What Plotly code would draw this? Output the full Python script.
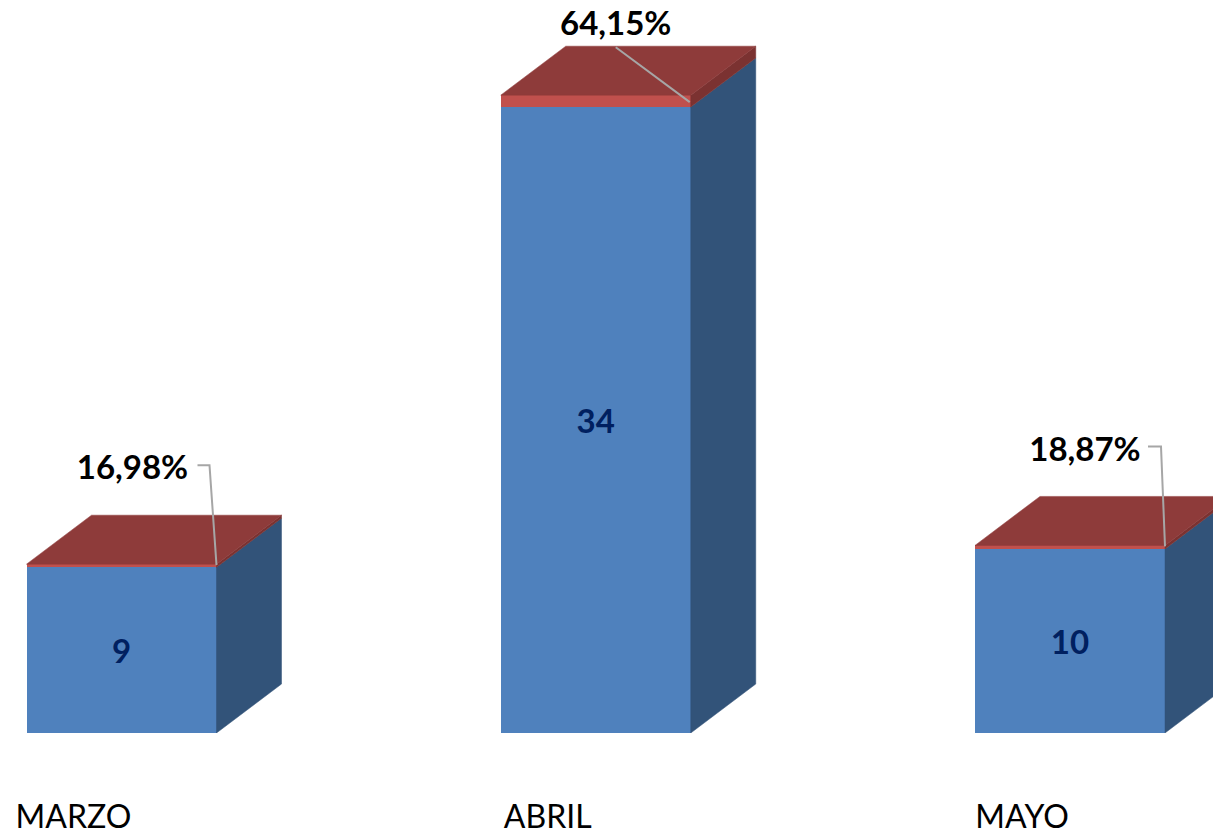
import plotly.graph_objects as go

meses = ["MARZO", "ABRIL", "MAYO"]
casos = [9, 34, 10]
porcentajes = [0.1698, 0.6415, 0.1887]

# escala en pixeles de la imagen
W, H = 1213, 831
BASE_Y = 733.3
X0 = 121.5
PX_X = 474.25
PX_Y = 18.42
ANCHO = 190 / PX_X
DX = 65 / PX_X   # profundidad falsa 3D
DY = 49 / PX_Y

AZUL, AZUL_LADO = "#4F81BD", "#325379"
ROJO, ROJO_LADO, ROJO_TOPE = "#C0504D", "#7B3231", "#8E3B3A"
FUENTE = "Lato"

pos = list(range(len(meses)))
fig = go.Figure()


def cara(xs, ys, color):
    fig.add_trace(go.Scatter(x=xs, y=ys, mode="lines", fill="toself", fillcolor=color,
                             line=dict(color=color, width=0.5), hoverinfo="skip", showlegend=False))


# caras laterales y superior de cada columna
for p, c, r in zip(pos, casos, porcentajes):
    d = p + ANCHO / 2
    i = p - ANCHO / 2
    cara([d, d + DX, d + DX, d, d], [0, DY, c + DY, c, 0], AZUL_LADO)
    cara([d, d + DX, d + DX, d, d], [c, c + DY, c + r + DY, c + r, c], ROJO_LADO)
    cara([i, d, d + DX, i + DX, i], [c + r, c + r, c + r + DY, c + r + DY, c + r], ROJO_TOPE)

fig.add_trace(go.Bar(x=pos, y=casos, width=ANCHO, marker=dict(color=AZUL, line=dict(width=0)),
                     text=[str(c) for c in casos], textposition="inside", insidetextanchor="middle",
                     textangle=0, textfont=dict(family=FUENTE, size=33, color="#002060", weight="bold"),
                     showlegend=False))
fig.add_trace(go.Bar(x=pos, y=porcentajes, width=ANCHO, marker=dict(color=ROJO, line=dict(width=0)),
                     textposition="none", showlegend=False))

# lineas guia y etiquetas de porcentaje, desplazadas en pixeles desde la esquina de la columna
guias = [[(-19, 99), (-7, 99), (0, -1)], [(-75, 48), (-1, -7)], [(-17, 99), (-4, 99), (0, -1)]]
etiquetas = [(-84, 93), (-75, 68), (-80, 93)]
for p, c, r, g, e in zip(pos, casos, porcentajes, guias, etiquetas):
    ex = p + ANCHO / 2
    ey = c + r
    fig.add_trace(go.Scatter(x=[ex + a / PX_X for a, b in g], y=[ey + b / PX_Y for a, b in g],
                             mode="lines", line=dict(color="#A6A6A6", width=2),
                             hoverinfo="skip", showlegend=False))
    fig.add_trace(go.Scatter(x=[ex + e[0] / PX_X], y=[ey + e[1] / PX_Y], mode="text",
                             text=[f"{r * 100:.2f}".replace(".", ",") + "%"], textposition="middle center",
                             textfont=dict(family=FUENTE, size=33, color="black", weight="bold"),
                             hoverinfo="skip", showlegend=False))

fig.update_layout(
    width=W, height=H, barmode="stack",
    margin=dict(l=0, r=0, t=0, b=H - BASE_Y),
    paper_bgcolor="white", plot_bgcolor="white",
    xaxis=dict(range=[-X0 / PX_X, (W - X0) / PX_X], showgrid=False, zeroline=False, showline=False,
               ticks="", tickmode="array", tickvals=[p - 48 / PX_X for p in pos], ticktext=meses,
               tickfont=dict(family=FUENTE, size=32, color="black"), ticklabelstandoff=62,
               automargin=False),
    yaxis=dict(range=[0, BASE_Y / PX_Y], visible=False, automargin=False),
)

fig.write_html("out.html", config=dict(displayModeBar=False),
               post_script="document.body.style.margin='0';document.body.style.overflow='hidden';")
